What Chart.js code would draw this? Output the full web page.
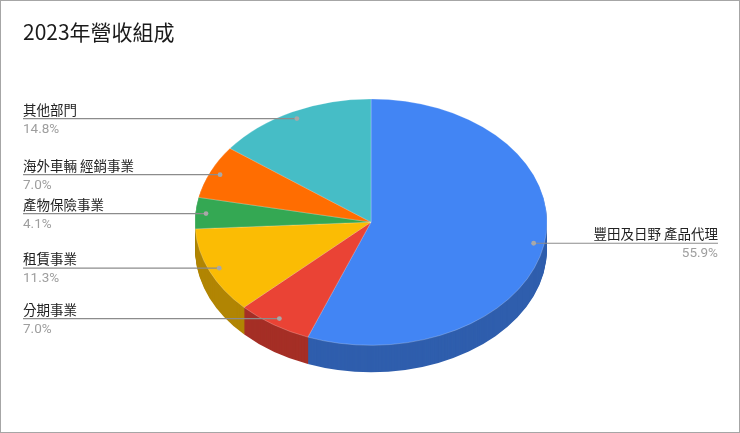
<!DOCTYPE html>
<html><head><meta charset="utf-8">
<style>html,body{margin:0;padding:0;background:#fff}#w{position:relative;width:740px;height:433px;overflow:hidden}
#b{position:absolute;inset:0;box-sizing:border-box;border:1px solid #a6a6a6;pointer-events:none}</style>
<script src="https://cdn.jsdelivr.net/npm/chart.js@4/dist/chart.umd.min.js"></script></head>
<body><div id="w"><canvas id="c" width="740" height="433"></canvas><div id="b"></div></div>
<script>
const titleText = '2023年營收組成';
const categories = ['豐田及日野 產品代理','分期事業','租賃事業','產物保險事業','海外車輛 經銷事業','其他部門'];
const shares = [55.9,7.0,11.3,4.1,7.0,14.8];
const colors = ['#4285f4','#ea4335','#fbbc04','#34a853','#ff6d01','#46bdc6'];
const wallColors = ['#2f5ead','#a52f26','#b18503','#257638','#b34d01','#31858c'];
const TILT = 0.7, DEPTH = 27, FONT = '"Noto Sans CJK TC","Noto Sans",sans-serif';

const tilt3d = {
  id:'tilt3d',
  beforeDatasetDraw(chart){
    const ctx = chart.ctx, arcs = chart.getDatasetMeta(0).data, cx = arcs[0].x, cy = arcs[0].y;
    for(let d = DEPTH; d > 0; d--){
      arcs.forEach((a,i)=>{
        ctx.save();
        ctx.translate(cx, cy + d); ctx.scale(1, TILT);
        ctx.beginPath(); ctx.moveTo(0,0);
        ctx.arc(0,0,a.outerRadius,a.startAngle,a.endAngle); ctx.closePath();
        ctx.fillStyle = wallColors[i]; ctx.fill();
        ctx.restore();
      });
    }
    ctx.save();
    ctx.translate(cx, cy); ctx.scale(1, TILT); ctx.translate(-cx, -cy);
  },
  afterDatasetDraw(chart){ chart.ctx.restore(); },
  afterDatasetsDraw(chart){
    const ctx = chart.ctx, arcs = chart.getDatasetMeta(0).data, cx = arcs[0].x, cy = arcs[0].y;
    arcs.forEach((a,i)=>{
      const mid = (a.startAngle + a.endAngle)/2, r = a.outerRadius*0.94;
      const px = cx + Math.cos(mid)*r, py = cy + Math.sin(mid)*r*TILT;
      const right = px > cx;
      const tx = right ? 718 : 23;
      ctx.save();
      ctx.strokeStyle = '#8c8c8c'; ctx.lineWidth = 1.2;
      ctx.beginPath(); ctx.moveTo(tx, py); ctx.lineTo(px, py); ctx.stroke();
      ctx.fillStyle = '#a8a8a8';
      ctx.beginPath(); ctx.arc(px, py, 2.4, 0, Math.PI*2); ctx.fill();
      ctx.textAlign = right ? 'right' : 'left';
      ctx.font = '13.5px ' + FONT; ctx.fillStyle = '#222222';
      ctx.textBaseline = 'alphabetic';
      ctx.fillText(categories[i], tx, py - 4);
      ctx.font = '13.5px Roboto,' + FONT; ctx.fillStyle = '#9e9e9e';
      ctx.fillText(shares[i].toFixed(1) + '%', tx, py + 14);
      ctx.restore();
    });
  }
};

new Chart(document.getElementById('c'),{
  type:'pie',
  data:{labels:categories,datasets:[{data:shares,backgroundColor:colors,borderWidth:0.6,borderColor:'rgba(255,255,255,0.45)',radius:176}]},
  options:{
    responsive:false,animation:false,devicePixelRatio:1,
    layout:{padding:{left:23,right:21,top:2,bottom:35}},
    plugins:{
      legend:{display:false},tooltip:{enabled:false},
      title:{display:true,text:titleText,align:'start',color:'#1a1a1a',
        font:{family:FONT,size:21,weight:'normal'},padding:{top:17,bottom:2}}
    }
  },
  plugins:[tilt3d]
});
</script></body></html>
